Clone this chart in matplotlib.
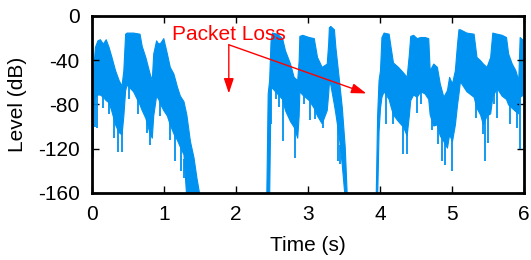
import numpy as np
import matplotlib
matplotlib.use("Agg")
import matplotlib.pyplot as plt

plt.rcParams['font.family'] = ['Liberation Sans', 'DejaVu Sans']
plt.rcParams['axes.unicode_minus'] = False

# ---- data ----
# segment 1
t1 = [0.00, 0.02, 0.04, 0.075, 0.11, 0.15, 0.19, 0.23, 0.27, 0.32, 0.37, 0.41, 0.435, 0.46, 0.48,
      0.57, 0.66, 0.69, 0.74, 0.80, 0.83, 0.85, 0.89, 0.92, 0.95, 0.99, 1.04, 1.08, 1.13, 1.18,
      1.22, 1.27, 1.31, 1.36, 1.41, 1.45, 1.50]
up1 = [-60, -45, -28, -22, -21, -25, -21, -28, -37, -49, -58, -63, -49, -16, -15,
       -15, -16, -27, -37, -52, -58, -34, -22, -25, -24, -20, -34, -46, -52, -64,
       -72, -77, -89, -113, -128, -146, -165]
lo1 = [-120, -80, -73, -71, -71, -73, -76, -78, -86, -98, -105, -107, -90, -67, -62,
       -68, -80, -85, -92, -106, -110, -90, -72, -75, -80, -85, -90, -98, -106, -112,
       -118, -125, -165, -165, -165, -165, -165]
# segment 2
t2 = [2.42, 2.44, 2.46, 2.48, 2.50, 2.57, 2.64, 2.68, 2.75, 2.80, 2.85, 2.87, 2.88, 2.92,
      3.01, 3.08, 3.125, 3.19, 3.26, 3.28, 3.29, 3.31, 3.36, 3.38, 3.43, 3.47, 3.51, 3.54]
up2 = [-165, -70, -58, -22, -15, -16, -20, -31, -43, -55, -58, -40, -18, -17,
       -19, -20, -37, -46, -43, -25, -10, -9, -12, -28, -58, -83, -118, -165]
lo2 = [-165, -165, -165, -65, -65, -70, -75, -85, -95, -100, -110, -90, -68, -71,
       -76, -83, -90, -97, -85, -70, -60, -62, -80, -88, -110, -135, -165, -165]
# segment 3
t3 = [3.94, 3.96, 3.98, 4.00, 4.02, 4.05, 4.12, 4.14, 4.18, 4.25, 4.32, 4.37, 4.40, 4.42,
      4.46, 4.51, 4.56, 4.62, 4.67, 4.69, 4.74, 4.79, 4.83, 4.88, 4.93, 4.96, 5.00, 5.04,
      5.07, 5.09, 5.11, 5.20, 5.30, 5.34, 5.39, 5.43, 5.48, 5.53, 5.56, 5.62, 5.69, 5.75,
      5.78, 5.83, 5.88, 5.92, 5.94, 5.99, 6.00]
up3 = [-165, -90, -58, -49, -19, -15, -16, -25, -42, -46, -51, -55, -35, -18,
       -17, -20, -19, -19, -20, -49, -43, -46, -61, -73, -67, -55, -61, -49,
       -25, -12, -12, -15, -16, -37, -40, -43, -46, -37, -15, -16, -17, -19,
       -34, -43, -49, -58, -19, -22, -22]
lo3 = [-165, -165, -104, -83, -73, -68, -75, -80, -89, -95, -100, -108, -90, -76,
       -71, -73, -68, -70, -75, -89, -99, -98, -108, -113, -119, -107, -113, -98,
       -80, -70, -59, -68, -73, -83, -89, -98, -90, -88, -73, -65, -72, -75,
       -80, -83, -86, -88, -73, -71, -71]

# downward spikes (time, level)
spike_t = [0.01, 0.045, 0.075, 0.15, 0.23, 0.30, 0.36, 0.42, 0.52, 0.64, 0.76, 0.80, 0.94,
           1.08, 1.15, 1.24, 1.28,
           2.49, 2.55, 2.60, 2.65, 2.82, 2.94, 3.03, 3.10, 3.21, 3.41, 3.45,
           4.08, 4.18, 4.32, 4.37, 4.51, 4.57, 4.72, 4.81, 4.86, 4.90, 5.00,
           5.34, 5.43, 5.46, 5.50, 5.59, 5.62, 5.80, 5.90, 5.94]
spike_db = [-128, -100, -101, -83, -89, -110, -123, -123, -75, -89, -106, -117, -90,
            -112, -131, -140, -146,
            -98, -75, -82, -113, -128, -80, -94, -93, -101, -131, -134,
            -98, -98, -125, -125, -88, -80, -103, -116, -131, -135, -140,
            -92, -107, -131, -115, -80, -92, -98, -101, -120]

xticks = [0, 1, 2, 3, 4, 5, 6]
yticks = [0, -40, -80, -120, -160]

blue = '#0092F0'
fs = 15

fig = plt.figure(figsize=(5.31, 2.60), dpi=100)
ax = fig.add_axes([0.1733, 0.2577, 0.8135, 0.6808])

for t, up, lo in [(t1, up1, lo1), (t2, up2, lo2), (t3, up3, lo3)]:
    ax.fill_between(t, lo, up, color=blue, linewidth=0.8, edgecolor=blue)

all_t = np.array(t1 + t2 + t3)
all_lo = np.array(lo1 + lo2 + lo3)
base = np.interp(spike_t, all_t, all_lo) + 6
ax.vlines(spike_t, spike_db, base, color=blue, linewidth=1.3)

ax.set_xlim(0, 6)
ax.set_ylim(-160, 0)
ax.set_xticks(xticks)
ax.set_yticks(yticks)
ax.tick_params(direction='in', top=True, right=True, length=5, width=1,
               labelsize=fs, colors='black')
ax.tick_params(axis='x', pad=9)
ax.tick_params(axis='y', pad=9)
for s in ax.spines.values():
    s.set_linewidth(2)
    s.set_zorder(5)

ax.set_xlabel('Time (s)', fontsize=fs)
ax.set_ylabel('Level (dB)', fontsize=fs)
ax.xaxis.set_label_coords(0.5, -0.245)
ax.yaxis.set_label_coords(-0.15, 0.5)

# annotation
ax.text(1.90, -16.5, 'Packet Loss', color='red', fontsize=fs, ha='center', va='center')
ax.annotate('', xy=(1.90, -70), xytext=(1.90, -26),
            arrowprops=dict(arrowstyle='-|>,head_length=0.9,head_width=0.3',
                            color='red', lw=1.0, shrinkA=0, shrinkB=0))
ax.annotate('', xy=(3.81, -70), xytext=(1.90, -26),
            arrowprops=dict(arrowstyle='-|>,head_length=0.9,head_width=0.3',
                            color='red', lw=1.0, shrinkA=0, shrinkB=0))

fig.savefig('out.png', dpi=100)
